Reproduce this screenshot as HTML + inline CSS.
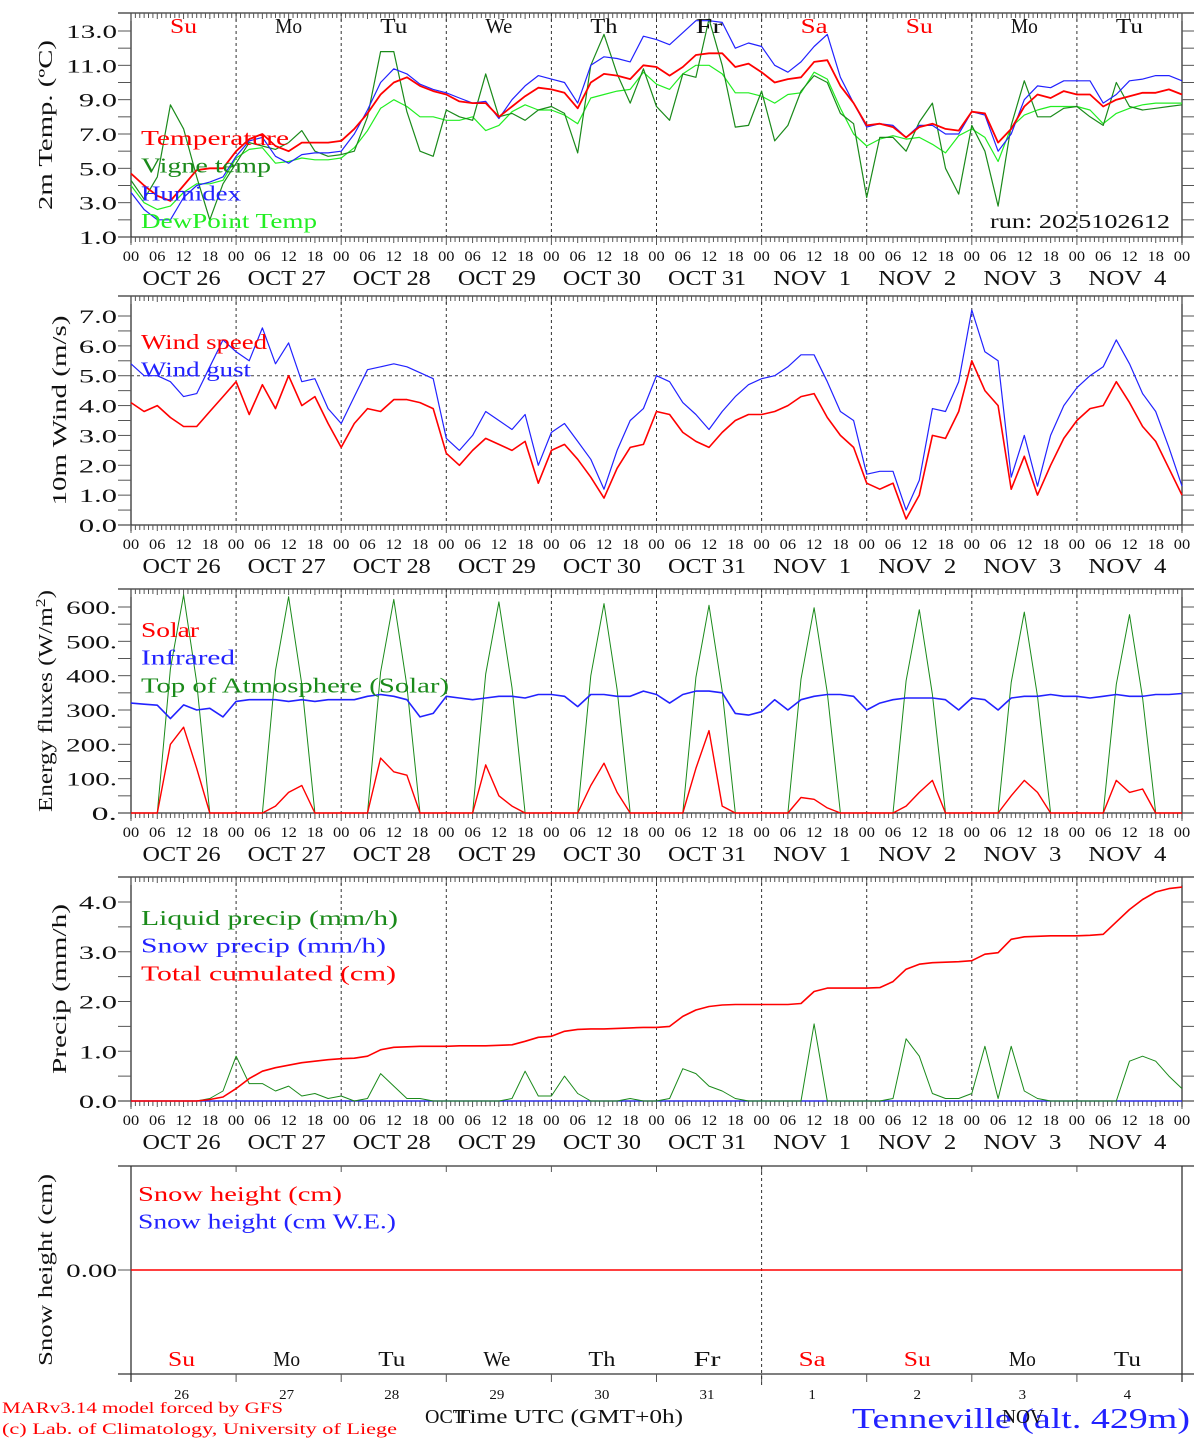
<!DOCTYPE html>
<html><head><meta charset="utf-8">
<style>
html,body{margin:0;padding:0;background:#fff;}
svg{display:block;font-family:"Liberation Serif",serif;}
text{white-space:pre;}
</style></head>
<body>
<svg id="chart" width="1194" height="1440" viewBox="0 0 1194 1440" xmlns="http://www.w3.org/2000/svg">
<text x="2" y="1413" fill="#f00" font-size="16" textLength="281" lengthAdjust="spacingAndGlyphs">MARv3.14 model forced by GFS</text>
<text x="2" y="1434" fill="#f00" font-size="16" textLength="395" lengthAdjust="spacingAndGlyphs">(c) Lab. of Climatology, University of Liege</text>
<text x="852" y="1428" fill="#22f" font-size="29" textLength="338" lengthAdjust="spacingAndGlyphs">Tenneville (alt. 429m)</text>
<text x="425" y="1423" fill="#111" font-size="20" textLength="40" lengthAdjust="spacingAndGlyphs">OCT</text>
<text x="455" y="1423" fill="#111" font-size="20" textLength="228" lengthAdjust="spacingAndGlyphs">Time UTC (GMT+0h)</text>
<text x="1002" y="1423" fill="#111" font-size="20" textLength="42" lengthAdjust="spacingAndGlyphs">NOV</text>
</svg>
<script>
// ---- data (3-hourly, 00 Oct 26 .. 00 Nov 5) ----
const dayNames = ["Su","Mo","Tu","We","Th","Fr","Sa","Su","Mo","Tu"];
const dayRed = [true,false,false,false,false,false,true,true,false,false];
const dateLabels = ["OCT 26","OCT 27","OCT 28","OCT 29","OCT 30","OCT 31","NOV  1","NOV  2","NOV  3","NOV  4"];
const dayNums = ["26","27","28","29","30","31","1","2","3","4"];
const hourLabels = ["00","06","12","18"];
const tempVals = [4.7,4.0,3.4,3.1,4.0,4.9,5.0,5.0, 6.0,6.7,7.0,6.3,6.0,6.5,6.5,6.5, 6.6,7.3,8.2,9.3,10.0,10.3,9.8,9.5, 9.3,8.9,8.8,8.8,8.0,8.6,9.2,9.7, 9.6,9.4,8.5,10.0,10.5,10.4,10.2,11.0, 10.9,10.4,10.9,11.6,11.7,11.7,10.9,11.1, 10.6,10.0,10.2,10.3,11.2,11.3,9.8,8.8, 7.5,7.6,7.4,6.8,7.4,7.6,7.3,7.2, 8.3,8.2,6.5,7.3,8.6,9.3,9.1,9.5, 9.3,9.3,8.6,9.0,9.2,9.4,9.4,9.6,9.3];
const vigneVals = [4.3,3.2,4.5,8.7,7.3,4.5,2.0,4.1, 5.3,6.5,6.3,6.1,6.5,7.2,6.0,5.7, 5.8,6.0,8.0,11.8,11.8,8.3,6.0,5.7, 8.4,8.0,7.8,10.5,8.0,8.2,7.8,8.4, 8.6,8.2,5.9,11.0,12.8,10.5,8.8,10.8, 8.6,7.8,10.5,10.3,13.7,11.0,7.4,7.5, 9.5,6.6,7.5,9.5,10.4,10.0,8.2,7.6, 3.3,6.8,6.8,6.0,7.7,8.8,5.0,3.5, 7.5,6.0,2.8,7.5,10.1,8.0,8.0,8.5, 8.6,8.0,7.5,10.0,8.6,8.4,8.5,8.6,8.7];
const humidexVals = [3.6,2.6,2.0,2.0,3.3,4.0,4.2,4.5, 5.7,6.6,6.8,5.7,5.3,5.8,5.9,5.9, 6.0,7.0,8.4,10.0,10.8,10.5,9.9,9.6, 9.4,9.1,8.8,8.9,7.9,9.0,9.8,10.4, 10.2,10.0,8.8,11.0,11.5,11.4,11.2,12.7, 12.5,12.2,12.9,13.6,13.6,13.5,12.0,12.3, 12.1,11.0,10.6,11.2,12.1,12.8,10.3,8.8, 7.4,7.6,7.5,6.8,7.5,7.5,7.0,7.0, 8.3,8.1,6.0,7.0,9.0,9.8,9.7,10.1, 10.1,10.1,8.8,9.3,10.1,10.2,10.4,10.4,10.1];
const dewVals = [4.0,3.0,2.6,2.8,3.6,4.1,4.1,4.3, 5.6,6.1,6.2,5.3,5.4,5.6,5.5,5.5, 5.6,6.2,7.2,8.5,9.0,8.6,8.0,8.0, 7.8,7.8,8.0,7.2,7.5,8.3,8.7,8.4, 8.4,8.1,7.6,9.1,9.3,9.5,9.6,10.6, 9.9,9.6,10.5,11.0,11.0,10.5,9.4,9.4, 9.2,8.8,9.3,9.4,10.6,10.2,8.5,7.0, 6.3,6.7,6.9,6.7,6.8,6.4,5.9,6.9, 7.3,6.8,5.4,7.4,8.1,8.4,8.6,8.6, 8.6,8.4,7.6,8.2,8.5,8.7,8.8,8.8,8.8];
const windVals = [4.1,3.8,4.0,3.6,3.3,3.3,3.8,4.3, 4.8,3.7,4.7,3.9,5.0,4.0,4.3,3.4, 2.6,3.4,3.9,3.8,4.2,4.2,4.1,3.9, 2.4,2.0,2.5,2.9,2.7,2.5,2.8,1.4, 2.5,2.7,2.2,1.6,0.9,1.9,2.6,2.7, 3.8,3.7,3.1,2.8,2.6,3.1,3.5,3.7, 3.7,3.8,4.0,4.3,4.4,3.6,3.0,2.6, 1.4,1.2,1.4,0.2,1.0,3.0,2.9,3.8, 5.5,4.5,4.0,1.2,2.3,1.0,2.0,2.9, 3.5,3.9,4.0,4.8,4.1,3.3,2.8,1.9,1.0];
const gustVals = [5.4,5.0,5.0,4.8,4.3,4.4,5.3,6.2, 5.8,5.5,6.6,5.4,6.1,4.8,4.9,3.9, 3.4,4.3,5.2,5.3,5.4,5.3,5.1,4.9, 2.9,2.5,3.0,3.8,3.5,3.2,3.7,2.0, 3.1,3.4,2.8,2.2,1.2,2.5,3.5,3.9, 5.0,4.8,4.1,3.7,3.2,3.8,4.3,4.7, 4.9,5.0,5.3,5.7,5.7,4.8,3.8,3.5, 1.7,1.8,1.8,0.5,1.5,3.9,3.8,4.8, 7.2,5.8,5.5,1.6,3.0,1.3,3.0,4.0, 4.6,5.0,5.3,6.2,5.4,4.4,3.8,2.6,1.3];
const solarVals = [0,0,0,200,250,130,0,0, 0,0,0,20,60,80,0,0, 0,0,0,160,120,110,0,0, 0,0,0,140,50,20,0,0, 0,0,0,80,145,60,0,0, 0,0,0,130,240,20,0,0, 0,0,0,45,40,15,0,0, 0,0,0,20,60,95,0,0, 0,0,0,50,95,60,0,0, 0,0,0,95,60,70,0,0,0];
const irVals = [320,317,314,275,315,300,305,280, 325,330,330,330,325,330,325,330, 330,330,340,345,340,330,280,290, 340,335,330,335,340,340,335,345, 345,340,310,345,345,340,340,355, 345,320,345,355,355,350,290,285, 295,330,300,330,340,345,345,340, 300,320,330,335,335,335,330,300, 335,330,300,335,340,340,345,340, 340,335,340,345,340,340,345,345,348];
const toaVals = [0,0,0,420,635,380,0,0, 0,0,0,415,630,375,0,0, 0,0,0,410,622,370,0,0, 0,0,0,405,615,365,0,0, 0,0,0,400,610,360,0,0, 0,0,0,395,605,355,0,0, 0,0,0,390,598,350,0,0, 0,0,0,385,592,345,0,0, 0,0,0,380,585,340,0,0, 0,0,0,375,578,335,0,0,0];
const liquidVals = [0,0,0,0,0,0,0.05,0.2, 0.9,0.35,0.35,0.2,0.3,0.1,0.15,0.05, 0.1,0,0.05,0.55,0.3,0.05,0.05,0, 0,0,0,0,0,0.05,0.6,0.1, 0.1,0.5,0.15,0,0,0,0.05,0, 0,0.05,0.65,0.55,0.3,0.2,0.05,0, 0,0,0,0,1.55,0,0,0, 0,0,0.05,1.25,0.9,0.15,0.05,0.05, 0.15,1.1,0.05,1.1,0.2,0.05,0,0, 0,0,0,0,0.8,0.9,0.8,0.5,0.25];
const snowPrecipVals = [0,0,0,0,0,0,0,0, 0,0,0,0,0,0,0,0, 0,0,0,0,0,0,0,0, 0,0,0,0,0,0,0,0, 0,0,0,0,0,0,0,0, 0,0,0,0,0,0,0,0, 0,0,0,0,0,0,0,0, 0,0,0,0,0,0,0,0, 0,0,0,0,0,0,0,0, 0,0,0,0,0,0,0,0,0];
const cumVals = [0,0,0,0,0,0,0.03,0.08, 0.25,0.45,0.6,0.67,0.72,0.77,0.8,0.83, 0.85,0.86,0.9,1.03,1.08,1.09,1.1,1.1, 1.1,1.11,1.11,1.11,1.12,1.13,1.2,1.28, 1.3,1.4,1.44,1.45,1.45,1.46,1.47,1.48, 1.48,1.5,1.7,1.83,1.9,1.93,1.94,1.94, 1.94,1.94,1.94,1.96,2.2,2.27,2.27,2.27, 2.27,2.28,2.4,2.65,2.75,2.78,2.79,2.8, 2.82,2.95,2.98,3.25,3.3,3.31,3.32,3.32, 3.32,3.33,3.35,3.6,3.85,4.05,4.2,4.27,4.3];
const snowHeightVals = [0,0];
const tempTicks = ["1.0","3.0","5.0","7.0","9.0","11.0","13.0"];
const windTicks = ["0.0","1.0","2.0","3.0","4.0","5.0","6.0","7.0"];
const fluxTicks = ["0.","100.","200.","300.","400.","500.","600."];
const precipTicks = ["0.0","1.0","2.0","3.0","4.0"];

// ---- drawing ----
const NS="http://www.w3.org/2000/svg";
const svg=document.getElementById('chart');
const X0=131,X1=1182,NDAYS=10;
function xT(h){return X0+(X1-X0)*h/(NDAYS*24);}
function el(tag,attrs,parent){const e=document.createElementNS(NS,tag);for(const k in attrs)e.setAttribute(k,attrs[k]);(parent||svg).appendChild(e);return e;}
function txt(x,y,s,attrs,cw,tl){const t=el('text',Object.assign({x:x,y:y},attrs||{}));t.textContent=s;
  const L=tl||(cw?s.length*cw:0);
  if(L){t.setAttribute('textLength',L.toFixed(1));t.setAttribute('lengthAdjust','spacingAndGlyphs');}
  return t;}

function panel(cfg){
  const g=el('g',{});
  
  
  const yS=v=>cfg.yb-(v-cfg.vmin)*(cfg.yb-cfg.yt0)/(cfg.vmax-cfg.vmin);
  el('line',{x1:118,y1:cfg.top,x2:X1+12,y2:cfg.top,stroke:'#333','stroke-width':1.3},g);
  el('line',{x1:118,y1:cfg.yb,x2:X1+12,y2:cfg.yb,stroke:'#333','stroke-width':1.3},g);
  el('line',{x1:X0,y1:cfg.top,x2:X0,y2:cfg.yb+6,stroke:'#333','stroke-width':1.3},g);
  el('line',{x1:X1,y1:cfg.top,x2:X1,y2:cfg.yb+6,stroke:'#333','stroke-width':1.3},g);
  for(let h=0;h<=NDAYS*24;h++){
    const x=xT(h);const L=(h%24==0)?8:(h%6==0?6:5);
    el('line',{x1:x,y1:cfg.top,x2:x,y2:cfg.top+L,stroke:'#555','stroke-width':1},g);
    el('line',{x1:x,y1:cfg.yb,x2:x,y2:cfg.yb+L,stroke:'#555','stroke-width':1},g);
  }
  for(let d=1;d<NDAYS;d++){
    el('line',{x1:xT(d*24),y1:cfg.top,x2:xT(d*24),y2:cfg.yb,stroke:'#333','stroke-width':1,'stroke-dasharray':'3,3'},g);
  }
  for(let v=cfg.vmin;v<=cfg.vmax+1e-9;v+=cfg.minor){
    const y=yS(v);
    el('line',{x1:118,y1:y,x2:X0,y2:y,stroke:'#555','stroke-width':1},g);
    el('line',{x1:X1,y1:y,x2:X1+12,y2:y,stroke:'#555','stroke-width':1},g);
  }
  cfg.ticks.forEach((s,i)=>{
    const t=txt(117,yS(cfg.vmin+i*cfg.major)+7,s,{'text-anchor':'end','font-size':19,fill:'#111'},12.7);
    
    
  });
  for(let d=0;d<=NDAYS;d++){
    hourLabels.forEach((s,k)=>{
      if(d==NDAYS&&k>0)return;
      const t=txt(xT(d*24+k*6),cfg.yb+24,s,{'text-anchor':'middle','font-size':15,fill:'#111'},8.2);
      
      
    });
    if(d<NDAYS){
      const t=txt(xT(d*24+12)-2,cfg.yb+48,dateLabels[d],{'text-anchor':'middle','font-size':21,fill:'#111'},13);
      
      
    }
  }
  if(cfg.dash!==undefined){
    el('line',{x1:X0,y1:yS(cfg.dash),x2:X1,y2:yS(cfg.dash),stroke:'#444','stroke-width':1,'stroke-dasharray':'3,3'},g);
  }
  const tt=txt(0,0,cfg.title,{'font-size':20,fill:'#111','text-anchor':'middle',transform:`translate(${cfg.tx},${(cfg.top+cfg.yb)/2}) rotate(-90)`});
  
  
  if(cfg.sup){tt.innerHTML=cfg.title+'<tspan dy="-7" font-size="14">2</tspan><tspan dy="7">)</tspan>';}
  tt.setAttribute('textLength',cfg.tlen);
  tt.setAttribute('lengthAdjust','spacingAndGlyphs');
  cfg.series.forEach(s=>{
    const pts=s.vals.map((v,i)=>xT(i*3).toFixed(1)+','+yS(v).toFixed(1)).join(' ');
    const p=el('polyline',{points:pts,fill:'none',stroke:s.color,'stroke-width':s.w||1.2,'stroke-linejoin':'round'},g);
    
    
  });
  cfg.legend.forEach((l,i)=>{
    const t=txt(141,cfg.legY+i*27.7,l[0],{fill:l[1],'font-size':21},0,l[2]);
    
    
  });
  return g;
}

panel({name:'temperature-panel',top:13,yb:237,yt0:31,vmin:1,vmax:13,major:2,minor:1,ticks:tempTicks,title:'2m Temp. (ºC)',tlen:170,tx:52,
  series:[{vals:dewVals,color:'#2e2',name:'dewpoint-line'},{vals:vigneVals,color:'#1a8a1a',name:'vigne-temp-line'},{vals:humidexVals,color:'#22f',name:'humidex-line'},{vals:tempVals,color:'#f00',w:1.8,name:'temperature-line'}],
  legY:145,legend:[['Temperature','#f00',148],['Vigne temp','#1a8a1a',130],['Humidex','#22f',100],['DewPoint Temp','#2e2',176]]});
dayNames.forEach((s,d)=>{const t=txt(xT(d*24+12),33,s,{'text-anchor':'middle','font-size':21,fill:dayRed[d]?'#f00':'#111'},13.5);
  
  });
const run=txt(1170,228,'run: 2025102612',{'text-anchor':'end','font-size':20,fill:'#111'},12);



panel({name:'wind-panel',top:296,yb:525,yt0:316,vmin:0,vmax:7,major:1,minor:0.5,ticks:windTicks,title:'10m Wind (m/s)',tlen:190,tx:66,dash:5,
  series:[{vals:gustVals,color:'#22f',name:'wind-gust-line'},{vals:windVals,color:'#f00',w:1.6,name:'wind-speed-line'}],
  legY:349,legend:[['Wind speed','#f00',126],['Wind gust','#22f',110]]});

panel({name:'energy-panel',top:589,yb:813,yt0:607,vmin:0,vmax:600,major:100,minor:50,ticks:fluxTicks,title:'Energy fluxes (W/m',sup:true,tlen:222,tx:52,
  series:[{vals:toaVals,color:'#1a8a1a',w:1,name:'toa-solar-line'},{vals:irVals,color:'#22f',w:1.6,name:'infrared-line'},{vals:solarVals,color:'#f00',w:1.4,name:'solar-line'}],
  legY:637,legend:[['Solar','#f00',58],['Infrared','#22f',94],['Top of Atmosphere (Solar)','#1a8a1a',308]]});

panel({name:'precip-panel',top:877,yb:1101,yt0:902,vmin:0,vmax:4,major:1,minor:0.5,ticks:precipTicks,title:'Precip (mm/h)',tlen:170,tx:66,
  series:[{vals:snowPrecipVals,color:'#22f',name:'snow-precip-line'},{vals:liquidVals,color:'#1a8a1a',w:1,name:'liquid-precip-line'},{vals:cumVals,color:'#f00',w:1.6,name:'total-cumulated-line'}],
  legY:925,legend:[['Liquid precip (mm/h)','#1a8a1a',257],['Snow precip (mm/h)','#22f',245],['Total cumulated (cm)','#f00',255]]});

(function(){
  const g=el('g',{});
  
  
  const top=1166,yb=1374,y0=1270;
  el('line',{x1:118,y1:top,x2:X1+12,y2:top,stroke:'#333','stroke-width':1.3},g);
  el('line',{x1:118,y1:yb,x2:X1+12,y2:yb,stroke:'#333','stroke-width':1.3},g);
  el('line',{x1:X0,y1:top,x2:X0,y2:yb+8,stroke:'#333','stroke-width':1.3},g);
  el('line',{x1:X1,y1:top,x2:X1,y2:yb+8,stroke:'#333','stroke-width':1.3},g);
  el('line',{x1:118,y1:y0,x2:X0,y2:y0,stroke:'#555'},g);
  for(let d=1;d<NDAYS;d++){
    el('line',{x1:xT(d*24),y1:top,x2:xT(d*24),y2:top+6,stroke:'#555'},g);
    el('line',{x1:xT(d*24),y1:yb,x2:xT(d*24),y2:yb+8,stroke:'#555'},g);
  }
  el('line',{x1:xT(6*24),y1:top,x2:xT(6*24),y2:yb+14,stroke:'#333','stroke-dasharray':'3,3'},g);
  const yS=v=>y0-v*100;
  const p=el('line',{x1:X0,y1:yS(snowHeightVals[0]),x2:X1,y2:yS(snowHeightVals[1]),stroke:'#f00','stroke-width':1.5},g);
  
  
  const tl=txt(117,y0+7,'0.00',{'text-anchor':'end','font-size':19,fill:'#111'},12.7);
  
  
  const tt=txt(0,0,'Snow height (cm)',{'font-size':20,fill:'#111','text-anchor':'middle',transform:`translate(52,${(top+yb)/2}) rotate(-90)`},12);
  
  
  [['Snow height (cm)','#f00',204],['Snow height (cm W.E.)','#22f',258]].forEach((l,i)=>{
    const t=txt(138,1201+i*27.7,l[0],{fill:l[1],'font-size':21},0,l[2]);
    
    
  });
  dayNames.forEach((s,d)=>{
    const t=txt(xT(d*24+12)-2,1366,s,{'text-anchor':'middle','font-size':21,fill:dayRed[d]?'#f00':'#111'},13.5);
    
    
    const n=txt(xT(d*24+12)-2,1399,dayNums[d],{'text-anchor':'middle','font-size':14,fill:'#111'},7.5);
    
    
  });
})();
</script>
</body></html>
